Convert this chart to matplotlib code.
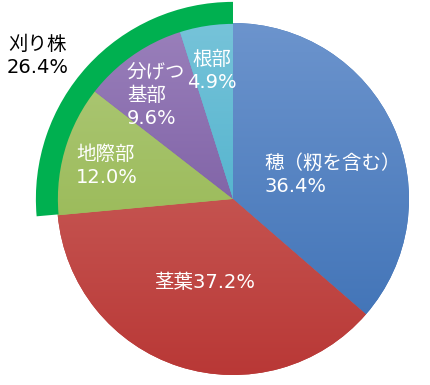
import numpy as np
import matplotlib
matplotlib.use('Agg')
import matplotlib.pyplot as plt
from matplotlib.patches import Wedge
from matplotlib.colors import to_rgb

plt.rcParams['font.family'] = ['DejaVu Sans', 'Noto Sans CJK JP']

# data (clockwise from 12 o'clock)
parts = ['穂（籾を含む）', '茎葉', '地際部', '分げつ\n基部', '根部']
values = [36.4, 37.2, 12.0, 9.6, 4.9]
stubble_label = '刈り株'
stubble_value = 26.4

# colours: top / bottom of the vertical gradient
top_cols = ['#6c94cd', '#d06e69', '#b0ca7b', '#9a80bb', '#76c3d9']
bot_cols = ['#3b6fb4', '#b93836', '#8cb042', '#6a4a95', '#37a7c5']
ring_col = '#00b050'

W, H = 430, 385
CX, CY, R = 233, 199, 176


def px(x, y):
    # pixel position -> data coords (pie radius = 1)
    return (x - CX) / R, (CY - y) / R


fig = plt.figure(figsize=(W / 100, H / 100), dpi=100)
ax = fig.add_axes([0, 0, 1, 1])

wedges, _ = ax.pie(values, startangle=90, counterclock=False, radius=1.0,
                   normalize=True, wedgeprops=dict(linewidth=0))

ys = np.linspace(1, 0, 200)[:, None, None]
for w, c1, c2 in zip(wedges, top_cols, bot_cols):
    a, b = np.array(to_rgb(c1)), np.array(to_rgb(c2))
    img = np.repeat(a * ys + b * (1 - ys), 2, axis=1)
    w.set_facecolor(c2)
    im = ax.imshow(img, extent=(-1, 1, -1, 1), origin='upper',
                   interpolation='bilinear', zorder=2, aspect='auto')
    im.set_clip_path(w)

# outer ring for the stubble share (counter-clockwise from 12 o'clock)
ring = Wedge((0, 0), 1.12, 90, 90 + stubble_value / 100 * 360, width=0.125,
             facecolor=ring_col, edgecolor='none', zorder=3)
ax.add_patch(ring)

ax.set_xlim(-CX / R, (W - CX) / R)
ax.set_ylim(-(H - CY) / R, CY / R)
ax.set_aspect('equal')
ax.axis('off')

fs = 14
txt = dict(color='white', fontsize=fs, zorder=5, linespacing=1.3)

x, y = px(264, 175)
ax.text(x, y, f'{parts[0]}\n{values[0]:.1f}%', ha='left', va='center', **txt)
x, y = px(205, 283)
ax.text(x, y, f'{parts[1]}{values[1]:.1f}%', ha='center', va='center', **txt)
x, y = px(76, 166)
ax.text(x, y, f'{parts[2]}\n{values[2]:.1f}%', ha='left', va='center', **txt)
x, y = px(127, 95)
ax.text(x, y, f'{parts[3]}\n{values[3]:.1f}%', ha='left', va='center', **txt)
x, y = px(212, 71)
ax.text(x, y, f'{parts[4]}\n{values[4]:.1f}%', ha='center', va='center', **txt)

x, y = px(38, 56)
ax.text(x, y, f'{stubble_label}\n{stubble_value:.1f}%', ha='center', va='center',
        color='black', fontsize=fs, linespacing=1.3, zorder=5)

fig.savefig('out.png', dpi=100)
